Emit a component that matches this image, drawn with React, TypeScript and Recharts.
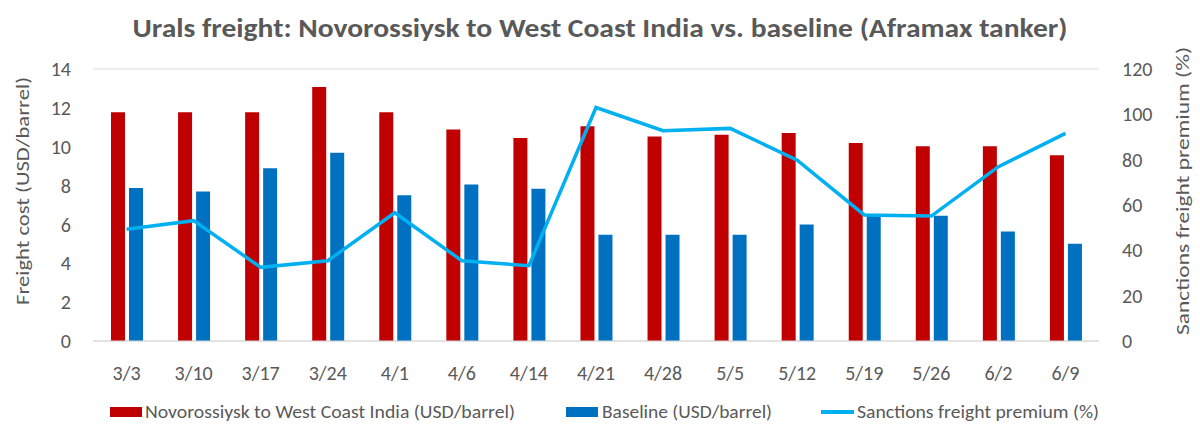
import React from "react";
import { ComposedChart, Bar, Line, XAxis, YAxis, CartesianGrid } from "recharts";

const weeks = ["3/3", "3/10", "3/17", "3/24", "4/1", "4/6", "4/14", "4/21", "4/28", "5/5", "5/12", "5/19", "5/26", "6/2", "6/9"];
const novoToIndia = [11.77, 11.77, 11.77, 13.07, 11.77, 10.88, 10.45, 11.05, 10.53, 10.62, 10.7, 10.19, 10.02, 10.02, 9.56];
const baseline = [7.87, 7.7, 8.89, 9.69, 7.5, 8.05, 7.84, 5.47, 5.47, 5.47, 5.99, 6.54, 6.45, 5.63, 5.01];
const premium = [49.3, 53.1, 32.5, 35.4, 56.6, 35.4, 33.2, 103, 92.8, 93.8, 79.8, 55.6, 55.1, 76.9, 91.6];
const leftTicks = [0, 2, 4, 6, 8, 10, 12, 14];
const rightTicks = [0, 20, 40, 60, 80, 100, 120];

const RED = "#C00000";
const BLUE = "#0070C0";
const CYAN = "#00B0F0";
const TEXT = "#595959";
const GRID = "#D9D9D9";
const FONT = "Carlito, Lato, 'Open Sans', sans-serif";

const data = weeks.map((w, i) => ({ week: w, novo: novoToIndia[i], base: baseline[i], prem: premium[i] }));

const tick = { fill: TEXT, fontSize: 20, fontFamily: FONT };

// rotated axis title, centred on (x, y)
function AxisTitle({ x, y, text, len }: { x: number; y: number; text: string; len: number }) {
  return (
    <text x={x} y={y} transform={`rotate(-90, ${x}, ${y})`} textAnchor="middle" dominantBaseline="central"
      fill={TEXT} fontSize={19} fontFamily={FONT} textLength={len} lengthAdjust="spacingAndGlyphs">
      {text}
    </text>
  );
}

export default function App() {
  return (
    <div style={{ position: "absolute", left: 0, top: 0, width: 1200, height: 430, background: "#fff" }}>
      <ComposedChart width={1200} height={430} data={data} margin={{ top: 69, right: 0, bottom: 59, left: 0 }} barSize={14} barGap={4}>
        <CartesianGrid vertical={false} stroke={GRID} strokeWidth={1} />
        <XAxis dataKey="week" interval={0} tickLine={false} axisLine={{ stroke: GRID }} tick={tick} tickMargin={19} height={30} />
        <YAxis yAxisId="left" domain={[0, 14]} ticks={leftTicks} width={93} axisLine={false} tickLine={false} tick={tick} tickMargin={16} />
        <YAxis yAxisId="right" orientation="right" domain={[0, 120]} ticks={rightTicks} width={101} axisLine={false} tickLine={false} tick={tick} tickMargin={17} />
        <Bar yAxisId="left" dataKey="novo" fill={RED} isAnimationActive={false} />
        <Bar yAxisId="left" dataKey="base" fill={BLUE} isAnimationActive={false} />
        <Line yAxisId="right" dataKey="prem" stroke={CYAN} strokeWidth={3.5} dot={false} isAnimationActive={false} />
      </ComposedChart>
      <svg width={1200} height={430} style={{ position: "absolute", left: 0, top: 0, pointerEvents: "none" }}>
        <text x={600} y={37} textAnchor="middle" fill={TEXT} fontSize={27} fontWeight={700} fontFamily={FONT}
          textLength={935} lengthAdjust="spacingAndGlyphs">
          Urals freight: Novorossiysk to West Coast India vs. baseline (Aframax tanker)
        </text>
        <AxisTitle x={22.5} y={191} text="Freight cost (USD/barrel)" len={228} />
        <AxisTitle x={1182} y={191} text="Sanctions freight premium (%)" len={288} />
        <g fontSize={18} fontFamily={FONT} fill={TEXT}>
          <rect x={110} y={407} width={32} height={10} fill={RED} />
          <text x={145} y={418} textLength={370} lengthAdjust="spacingAndGlyphs">Novorossiysk to West Coast India (USD/barrel)</text>
          <rect x={566} y={407} width={32} height={10} fill={BLUE} />
          <text x={602} y={418} textLength={170} lengthAdjust="spacingAndGlyphs">Baseline (USD/barrel)</text>
          <rect x={821} y={410} width={33} height={4} fill={CYAN} />
          <text x={857} y={418} textLength={242} lengthAdjust="spacingAndGlyphs">Sanctions freight premium (%)</text>
        </g>
      </svg>
    </div>
  );
}
